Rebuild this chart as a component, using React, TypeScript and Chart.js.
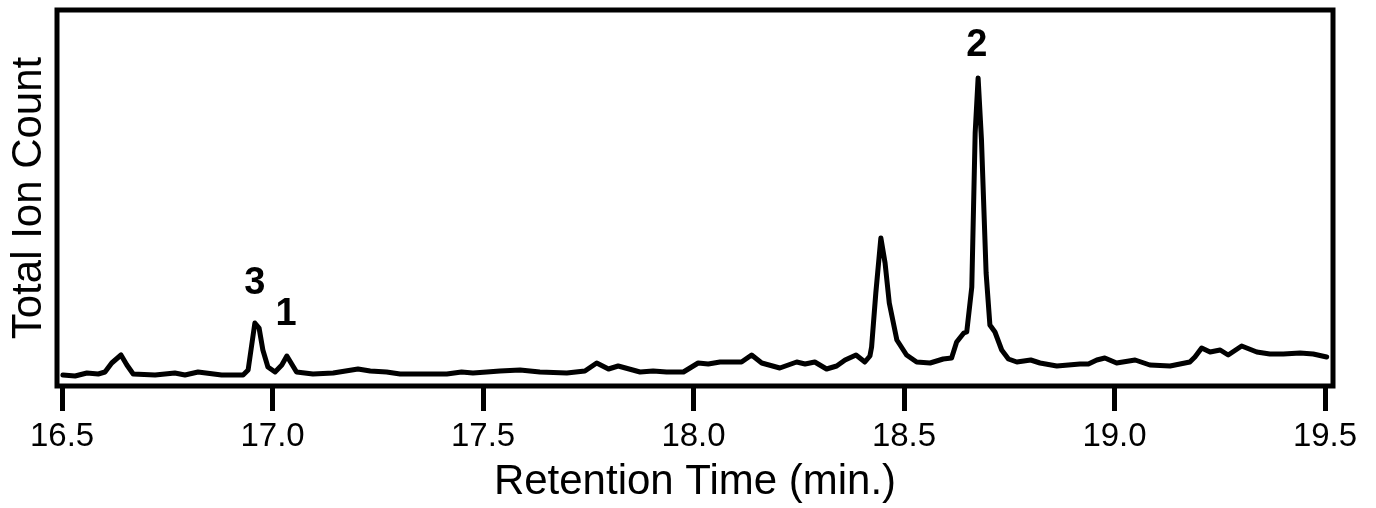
import React, { useEffect, useRef } from "react";
import { Chart, registerables } from "chart.js";

Chart.register(...registerables);

// Retention time (min) and total ion count (arbitrary units)
const TIMES: number[] = [
  16.502, 16.531, 16.559, 16.586, 16.602, 16.618, 16.64, 16.654, 16.669, 16.721,
  16.768, 16.792, 16.823, 16.879, 16.93, 16.942, 16.958, 16.968, 16.977, 16.989,
  17.006, 17.022, 17.034, 17.057, 17.096, 17.144, 17.203, 17.232, 17.271, 17.303,
  17.374, 17.414, 17.449, 17.476, 17.509, 17.54, 17.588, 17.635, 17.699, 17.742,
  17.77, 17.798, 17.821, 17.873, 17.904, 17.936, 17.976, 18.011, 18.035, 18.063,
  18.114, 18.138, 18.162, 18.205, 18.245, 18.265, 18.288, 18.316, 18.34, 18.36,
  18.386, 18.407, 18.419, 18.423, 18.433, 18.445, 18.455, 18.465, 18.483, 18.506,
  18.53, 18.562, 18.593, 18.613, 18.625, 18.642, 18.649, 18.661, 18.669, 18.676,
  18.684, 18.695, 18.704, 18.716, 18.732, 18.748, 18.768, 18.801, 18.823, 18.863,
  18.918, 18.938, 18.958, 18.977, 19.005, 19.049, 19.084, 19.132, 19.179, 19.191,
  19.207, 19.227, 19.251, 19.27, 19.302, 19.338, 19.369, 19.401, 19.441, 19.472,
  19.504,
];
const COUNTS: number[] = [
  11, 10, 13, 12, 14, 23, 31, 21, 12, 11,
  13, 11, 14, 11, 11, 16, 63, 58, 36, 19,
  14, 21, 30, 14, 12, 13, 17, 15, 14, 12,
  12, 12, 14, 13, 14, 15, 16, 14, 13, 15,
  23, 17, 20, 14, 15, 14, 14, 23, 22, 24,
  24, 31, 23, 18, 24, 22, 24, 17, 20, 26,
  31, 24, 30, 39, 93, 148, 123, 83, 46, 31,
  24, 23, 27, 28, 44, 53, 54, 99, 253, 308,
  246, 113, 61, 54, 36, 27, 24, 26, 23, 20,
  22, 22, 26, 28, 23, 26, 21, 20, 24, 29,
  38, 34, 36, 31, 40, 34, 32, 32, 33, 32,
  29,
];

const X_TICKS: number[] = [16.5, 17.0, 17.5, 18.0, 18.5, 19.0, 19.5];
const X_MIN = 16.488;
const X_MAX = 19.519;
const Y_MIN = 0;
const Y_MAX = 376;

const PEAK_LABELS: string[] = ["3", "1", "2"];
const PEAK_LABEL_X: number[] = [16.958, 17.032, 18.673];
const PEAK_LABEL_Y: number[] = [102, 71, 340];

const X_TITLE = "Retention Time (min.)";
const Y_TITLE = "Total Ion Count";

const FONT = "'Liberation Sans', Arial, Helvetica, sans-serif";

export default function App() {
  const canvasRef = useRef<HTMLCanvasElement | null>(null);

  useEffect(() => {
    const canvas = canvasRef.current;
    if (!canvas) return;

    const framePlugin = {
      id: "frame",
      afterDraw(chart: any) {
        const { ctx, chartArea } = chart;
        ctx.save();
        ctx.strokeStyle = "#000";
        ctx.lineWidth = 5;
        ctx.strokeRect(
          chartArea.left,
          chartArea.top,
          chartArea.right - chartArea.left,
          chartArea.bottom - chartArea.top
        );
        ctx.restore();
      },
    };

    const labelPlugin = {
      id: "peakLabels",
      afterDatasetsDraw(chart: any) {
        const { ctx } = chart;
        const xs = chart.scales.x;
        const ys = chart.scales.y;
        ctx.save();
        ctx.fillStyle = "#000";
        ctx.font = `bold 38px ${FONT}`;
        ctx.textAlign = "center";
        ctx.textBaseline = "middle";
        PEAK_LABELS.forEach((lab, i) => {
          ctx.fillText(
            lab,
            xs.getPixelForValue(PEAK_LABEL_X[i]),
            ys.getPixelForValue(PEAK_LABEL_Y[i])
          );
        });
        ctx.restore();
      },
    };

    const chart = new Chart(canvas, {
      type: "line",
      data: {
        datasets: [
          {
            data: TIMES.map((t, i) => ({ x: t, y: COUNTS[i] })),
            borderColor: "#000",
            borderWidth: 5,
            pointRadius: 0,
            tension: 0,
            fill: false,
            borderJoinStyle: "round",
            borderCapStyle: "round",
          },
        ],
      },
      options: {
        responsive: false,
        animation: false,
        layout: { padding: { top: 10, right: 43, left: 0, bottom: 0 } },
        plugins: {
          legend: { display: false },
          tooltip: { enabled: false },
        },
        scales: {
          x: {
            type: "linear",
            position: "bottom",
            min: X_MIN,
            max: X_MAX,
            afterBuildTicks: (scale: any) => {
              scale.ticks = X_TICKS.map((v) => ({ value: v }));
            },
            afterFit: (scale: any) => {
              scale.height = 122;
            },
            border: { display: false },
            grid: {
              drawOnChartArea: false,
              drawTicks: true,
              tickLength: 25,
              tickWidth: 5,
              tickColor: "#000",
              color: "#000",
            },
            ticks: {
              autoSkip: false,
              maxRotation: 0,
              padding: 6,
              color: "#000",
              font: { family: FONT, size: 33 },
              callback: (v: any) => Number(v).toFixed(1),
            },
            title: {
              display: true,
              text: X_TITLE,
              color: "#000",
              font: { family: FONT, size: 42 },
              padding: 0,
            },
          },
          y: {
            type: "linear",
            min: Y_MIN,
            max: Y_MAX,
            afterFit: (scale: any) => {
              scale.width = 57;
            },
            border: { display: false },
            grid: { display: false },
            ticks: { display: false },
            title: {
              display: true,
              text: Y_TITLE,
              color: "#000",
              font: { family: FONT, size: 42 },
              padding: 4,
            },
          },
        },
      },
      plugins: [framePlugin, labelPlugin],
    } as any);

    return () => {
      chart.destroy();
    };
  }, []);

  return (
    <div
      style={{
        position: "fixed",
        left: 0,
        top: 0,
        width: 1376,
        height: 508,
        background: "#fff",
      }}
    >
      <canvas ref={canvasRef} width={1376} height={508} />
    </div>
  );
}
